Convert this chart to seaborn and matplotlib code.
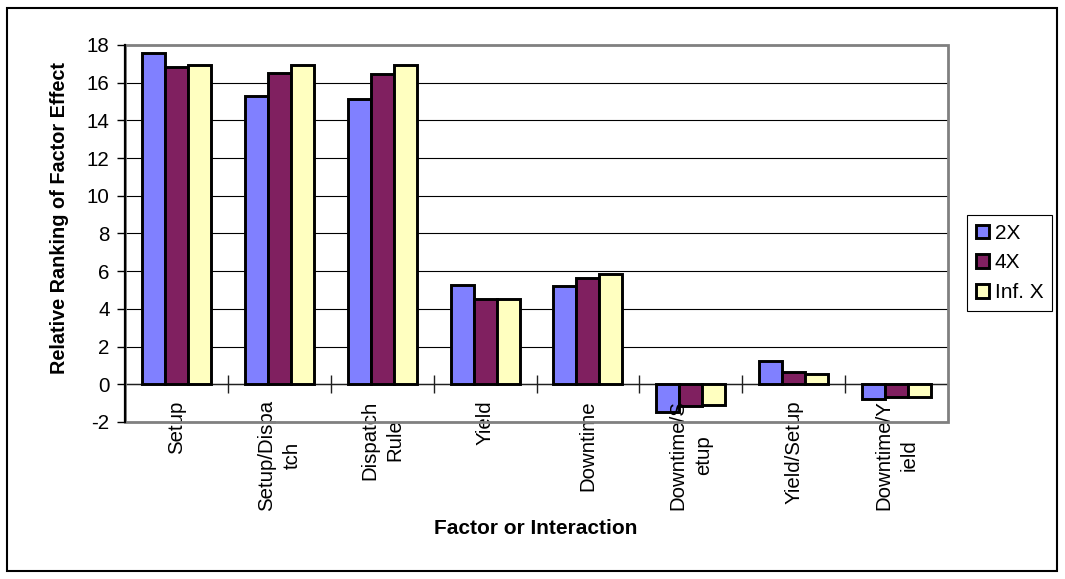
import numpy as np
import pandas as pd
import matplotlib
matplotlib.use("Agg")
import matplotlib.pyplot as plt
import seaborn as sns
from matplotlib.patches import Rectangle

# Factors / interactions on the x axis (wrapped as they appear on the chart)
factors = ["Setup", "Setup/Dispa\ntch", "Dispatch\nRule", "Yield", "Downtime",
           "Downtime/S\netup", "Yield/Setup", "Downtime/Y\nield"]
series = ["2X", "4X", "Inf. X"]

# Relative ranking of factor effect for each capacity scenario
vals_2x = [17.6, 15.28, 15.12, 5.27, 5.22, -1.47, 1.24, -0.80]
vals_4x = [16.85, 16.5, 16.45, 4.55, 5.63, -1.17, 0.65, -0.67]
vals_inf = [16.95, 16.95, 16.95, 4.50, 5.87, -1.10, 0.57, -0.70]

yticks = list(range(-2, 19, 2))
colors = ["#8080FF", "#802060", "#FFFFC0"]

df = pd.DataFrame({
    "factor": factors * 3,
    "series": [s for s in series for _ in factors],
    "value": vals_2x + vals_4x + vals_inf,
})

sns.set_style("white")
plt.rcParams["font.family"] = ["Liberation Sans", "DejaVu Sans"]
plt.rcParams["text.color"] = "black"
plt.rcParams["xtick.color"] = "black"
plt.rcParams["ytick.color"] = "black"

W, H = 1065, 579
fig = plt.figure(figsize=(W / 100, H / 100), dpi=100)
ax = fig.add_axes([125 / W, 1 - 422 / H, (948 - 125) / W, (422 - 45) / H])

sns.barplot(data=df, x="factor", y="value", hue="series", order=factors,
            hue_order=series, palette=colors, saturation=1, width=0.67,
            edgecolor="black", linewidth=2.1, ax=ax, zorder=3)

ax.set_ylim(-2, 18)
ax.set_xlim(-0.5, len(factors) - 0.5)
ax.set_yticks(yticks)
ax.set_yticklabels([str(t) for t in yticks], fontsize=14.8)
ax.yaxis.grid(True, color="black", linewidth=0.8)
ax.xaxis.grid(False)
ax.set_axisbelow(True)
ax.set_xlabel("")
ax.set_ylabel("")

# category axis crosses at zero, with tick marks between groups
ax.spines["bottom"].set_position(("data", 0))
ax.spines["bottom"].set_color("#202020")
ax.spines["bottom"].set_linewidth(1.0)
ax.set_xticks(np.arange(0.5, len(factors) - 1, 1))
ax.set_xticklabels([])
ax.tick_params(axis="x", direction="inout", length=13, width=1.0, color="#202020", bottom=True)
ax.tick_params(axis="y", direction="out", length=6, width=1.0, color="black", left=True, pad=5)
for s in ("top", "right"):
    ax.spines[s].set_visible(False)
ax.spines["left"].set_color("black")
ax.spines["left"].set_linewidth(1.6)
ax.spines["left"].set_zorder(5)

# plot-area frame
ax.add_patch(Rectangle((0, 0), 1, 1, transform=ax.transAxes, fill=False,
                       edgecolor="#808080", linewidth=2, clip_on=False, zorder=4))

for i, f in enumerate(factors):
    ax.annotate(f, xy=(i, 0), xycoords="data", xytext=(0, -11.5),
                textcoords="offset points", rotation=90, ha="center", va="top",
                multialignment="center", linespacing=1.4, fontsize=14.7,
                annotation_clip=False)

fig.text(536 / W, 1 - 528 / H, "Factor or Interaction", ha="center", va="center",
         fontsize=15, fontweight="bold")
fig.text(60 / W, 1 - 218 / H, "Relative Ranking of Factor Effect", ha="center",
         va="center", rotation=90, fontsize=14.3, fontweight="bold")

handles, labels = ax.get_legend_handles_labels()
ax.get_legend().remove()
leg = fig.legend(handles, labels, loc="center left", bbox_to_anchor=(967 / W, 1 - 263 / H),
                 frameon=True, fancybox=False, edgecolor="black", framealpha=1,
                 fontsize=15, handlelength=0.62, handleheight=0.62, handletextpad=0.3,
                 borderpad=0.42, labelspacing=0.52, borderaxespad=0)
leg.get_frame().set_linewidth(0.8)

# outer chart border
fig.patches.append(Rectangle((7 / W, 8 / H), (1057 - 7) / W, (571 - 8) / H,
                             transform=fig.transFigure, fill=False,
                             edgecolor="black", linewidth=1.5))

fig.savefig("out.png", dpi=100)
